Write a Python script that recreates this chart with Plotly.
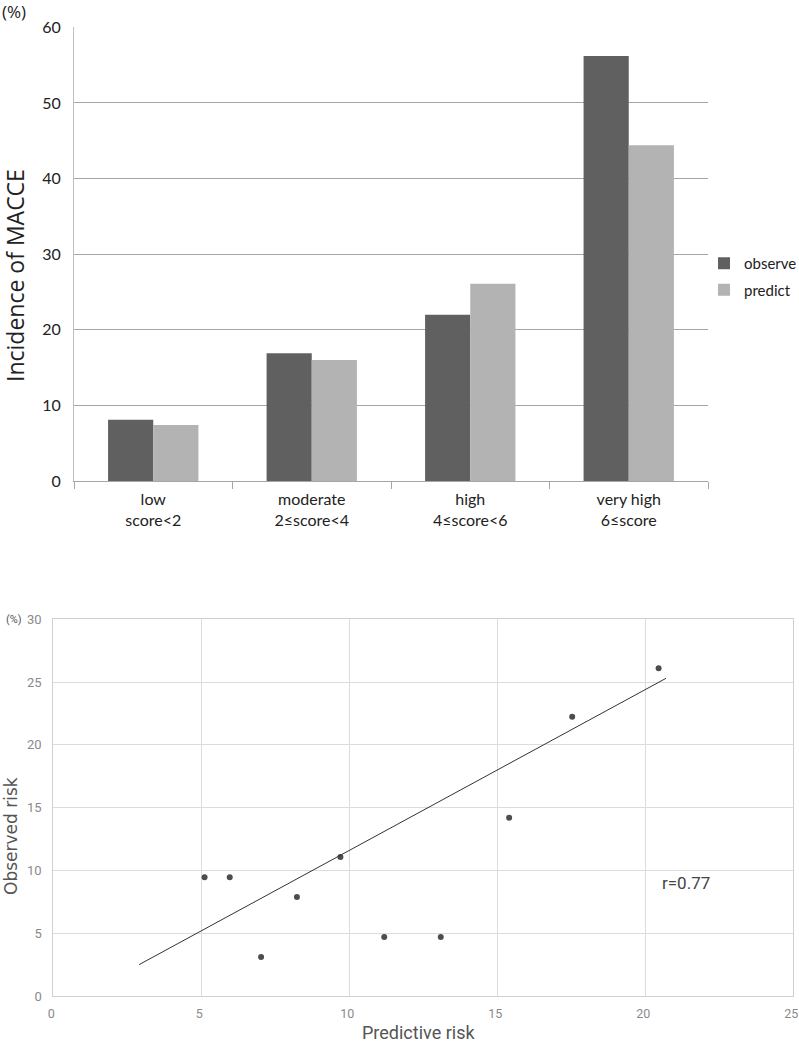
import plotly.graph_objects as go

# ---- top chart data ----
categories = ["low", "moderate", "high", "very high"]
category_labels = ["low<br>score&lt;2", "moderate<br>2≤score&lt;4", "high<br>4≤score&lt;6", "very high<br>6≤score"]
observe = [8.1, 16.9, 22.0, 56.2]
predict = [7.4, 16.0, 26.1, 44.4]
bar_yticks = [0, 10, 20, 30, 40, 50, 60]

# ---- bottom chart data ----
pred_risk = [5.11, 5.96, 7.02, 8.23, 9.70, 11.18, 13.09, 15.40, 17.53, 20.45]
obs_risk = [9.45, 9.45, 3.1, 7.88, 11.07, 4.7, 4.7, 14.2, 22.24, 26.1]
trend_x = [2.9, 20.7]
trend_y = [2.5, 25.3]
scatter_xticks = [0, 5, 10, 15, 20, 25]
scatter_yticks = [0, 5, 10, 15, 20, 25, 30]

W, H = 799, 1043

def px_x(p):
    return p / W

def px_y(p):
    return 1 - p / H

fig = go.Figure()

top_font = "Lato, Carlito, Calibri, sans-serif"
bot_font = "Roboto, sans-serif"

fig.add_trace(go.Bar(x=categories, y=observe, name="observe", marker_color="#606060",
                     marker_line_width=0, legendgroup="obs", xaxis="x", yaxis="y"))
fig.add_trace(go.Bar(x=categories, y=predict, name="predict", marker_color="#b3b3b3",
                     marker_line_width=0, legendgroup="pred", xaxis="x", yaxis="y"))

fig.add_trace(go.Scatter(x=pred_risk, y=obs_risk, mode="markers", showlegend=False,
                         marker=dict(color="#4d4d4d", size=6), xaxis="x2", yaxis="y2"))
fig.add_trace(go.Scatter(x=trend_x, y=trend_y, mode="lines", showlegend=False,
                         line=dict(color="#333333", width=1), xaxis="x2", yaxis="y2"))

fig.update_layout(
    width=W, height=H,
    margin=dict(l=0, r=0, t=0, b=0, autoexpand=False),
    paper_bgcolor="white", plot_bgcolor="white",
    barmode="group", bargap=0.43, bargroupgap=0,
    xaxis=dict(domain=[px_x(74), px_x(708)], anchor="y", automargin=False,
               tickvals=categories, ticktext=category_labels,
               tickson="boundaries", ticks="outside", ticklen=7, tickcolor="#a6a6a6",
               showline=True, linecolor="#a6a6a6", linewidth=1,
               showgrid=False, ticklabelstandoff=4,
               tickfont=dict(family=top_font, size=16, color="#222222")),
    yaxis=dict(domain=[px_y(481), px_y(27.3)], anchor="x", automargin=False,
               range=[0, 60], tickvals=bar_yticks,
               showgrid=True, gridcolor="#a6a6a6", gridwidth=1,
               showline=True, linecolor="#bfbfbf", linewidth=1,
               zeroline=False, ticks="", ticklabelstandoff=9,
               tickfont=dict(family=top_font, size=16, color="#222222")),
    xaxis2=dict(domain=[px_x(53.3), px_x(793.3)], anchor="y2", automargin=False,
                range=[0, 25], tickvals=scatter_xticks,
                showgrid=True, gridcolor="#dcdcdc", gridwidth=1,
                showline=True, linecolor="#d0d0d0", mirror=True, zeroline=False,
                ticks="", ticklabelstandoff=6, ticklabelshift=-2, ticklabeloverflow="allow",
                tickfont=dict(family=bot_font, size=12.5, color="#8a8a8a")),
    yaxis2=dict(domain=[px_y(996), px_y(619.3)], anchor="x2", automargin=False,
                range=[0, 30], tickvals=scatter_yticks,
                showgrid=True, gridcolor="#dcdcdc", gridwidth=1,
                showline=True, linecolor="#d0d0d0", mirror=True, zeroline=False,
                ticks="", ticklabelstandoff=8,
                tickfont=dict(family=bot_font, size=13, color="#8a8a8a")),
    legend=dict(x=px_x(704), y=px_y(247), xanchor="left", yanchor="top",
                font=dict(family=top_font, size=15, color="#222222"),
                bgcolor="rgba(0,0,0,0)", tracegroupgap=4),
    annotations=[
        dict(text="(%)", x=px_x(0), y=px_y(12), xref="paper", yref="paper",
             xanchor="left", yanchor="middle", showarrow=False,
             font=dict(family="Open Sans, sans-serif", size=17, color="#222222")),
        dict(text="Incidence of MACCE", x=px_x(15), y=px_y(276), xref="paper", yref="paper",
             xanchor="center", yanchor="middle", showarrow=False, textangle=-90,
             font=dict(family="Open Sans, sans-serif", size=23, color="#222222")),
        dict(text="(%)", x=px_x(4), y=px_y(619), xref="paper", yref="paper",
             xanchor="left", yanchor="middle", showarrow=False,
             font=dict(family=bot_font, size=11, color="#555555")),
        dict(text="Observed risk", x=px_x(11), y=px_y(836), xref="paper", yref="paper",
             xanchor="center", yanchor="middle", showarrow=False, textangle=-90,
             font=dict(family="DejaVu Sans, sans-serif", size=17, color="#555555")),
        dict(text="Predictive risk", x=px_x(418), y=px_y(1032), xref="paper", yref="paper",
             xanchor="center", yanchor="middle", showarrow=False,
             font=dict(family=bot_font, size=18, color="#555555")),
        dict(text="r=0.77", x=px_x(660), y=px_y(883), xref="paper", yref="paper",
             xanchor="left", yanchor="middle", showarrow=False,
             font=dict(family=bot_font, size=17, color="#444444")),
    ],
)

fig.write_html("out.html", config={"displayModeBar": False},
               post_script="document.body.style.margin='0';")
